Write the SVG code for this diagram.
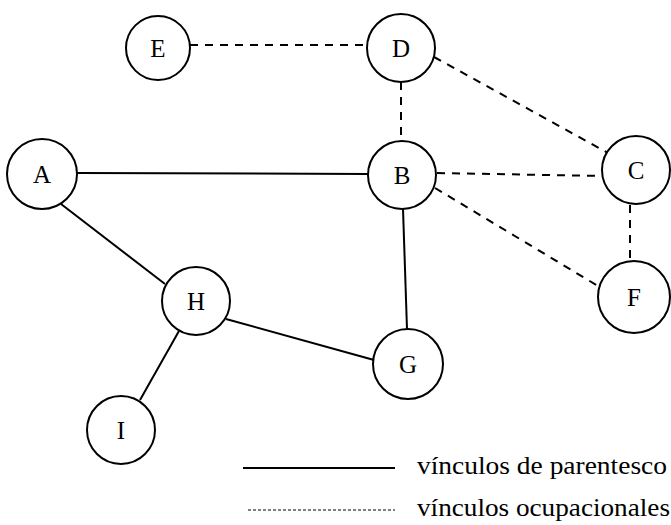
<svg xmlns="http://www.w3.org/2000/svg" width="671" height="525" viewBox="0 0 671 525">
<style>
.node circle{fill:#fff;stroke:#000;stroke-width:2}
.node text{font-family:"Liberation Serif",serif;font-size:25px;text-anchor:middle;dominant-baseline:central;fill:#000}
.kin{stroke:#000;stroke-width:2;fill:none}
.occ{stroke:#000;stroke-width:2;fill:none;stroke-dasharray:8 7}
.lbl{font-family:"Liberation Serif",serif;font-size:25px;fill:#000}
</style>
<rect width="671" height="525" fill="#fff"/>
<g id="connectors">
<line class="kin" x1="77" y1="173" x2="368" y2="174"/>
<line class="kin" x1="61" y1="204" x2="165" y2="284"/>
<line class="kin" x1="179" y1="331" x2="140" y2="400"/>
<line class="kin" x1="226" y1="319" x2="374" y2="360"/>
<line class="kin" x1="403" y1="209" x2="407" y2="329"/>
<line class="occ" x1="190" y1="45" x2="367" y2="45"/>
<line class="occ" x1="401" y1="82" x2="401" y2="141"/>
<line class="occ" x1="434" y1="57" x2="608" y2="153"/>
<line class="occ" x1="437" y1="173" x2="602" y2="176"/>
<line class="occ" x1="435" y1="188" x2="598" y2="286"/>
<line class="occ" x1="630" y1="205" x2="630" y2="262" stroke-dasharray="5 4"/>
</g>
<g id="node-E" class="node"><circle cx="158" cy="48" r="32"/><text x="158" y="48">E</text></g>
<g id="node-D" class="node"><circle cx="401" cy="48" r="34"/><text x="401" y="48">D</text></g>
<g id="node-A" class="node"><circle cx="42" cy="174" r="35"/><text x="42" y="174">A</text></g>
<g id="node-B" class="node"><circle cx="402" cy="175" r="34"/><text x="402" y="175">B</text></g>
<g id="node-C" class="node"><circle cx="636" cy="170" r="34"/><text x="636" y="170">C</text></g>
<g id="node-H" class="node"><circle cx="196" cy="301" r="34"/><text x="196" y="301">H</text></g>
<g id="node-F" class="node"><circle cx="634" cy="297" r="36"/><text x="634" y="297">F</text></g>
<g id="node-G" class="node"><circle cx="408" cy="364" r="35"/><text x="408" y="364">G</text></g>
<g id="node-I" class="node"><circle cx="121" cy="430" r="34"/><text x="121" y="430">I</text></g>
<g id="legend">
<line x1="243" y1="468" x2="395" y2="468" stroke="#000" stroke-width="2"/>
<text class="lbl" x="417" y="474" textLength="250" lengthAdjust="spacingAndGlyphs">vínculos de parentesco</text>
<line x1="248" y1="510" x2="395" y2="510" stroke="#000" stroke-width="1.2" stroke-dasharray="3 2"/>
<text class="lbl" x="417" y="516" textLength="253" lengthAdjust="spacingAndGlyphs">vínculos ocupacionales</text>
</g>
</svg>
